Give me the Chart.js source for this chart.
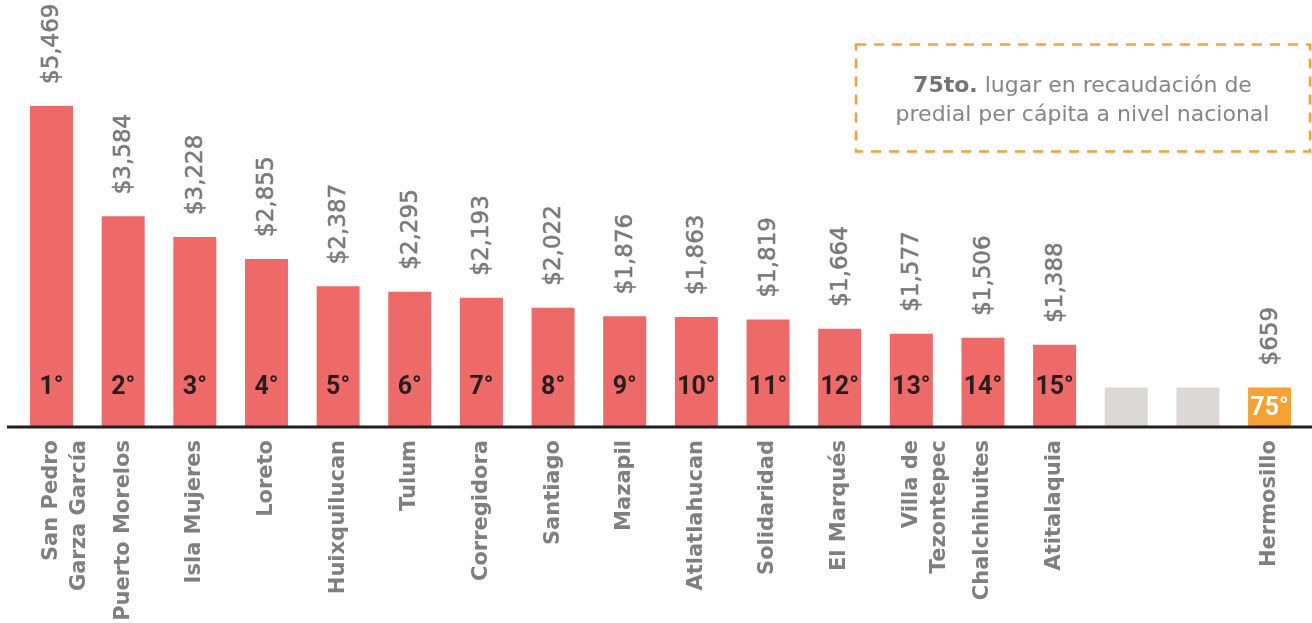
<!DOCTYPE html>
<html>
<head>
<meta charset="utf-8">
<script src="https://cdn.jsdelivr.net/npm/chart.js@4.4.1/dist/chart.umd.min.js"></script>
<style>
html,body{margin:0;padding:0;background:#fff;}
#wrap{position:relative;width:1312px;height:623px;overflow:hidden;}
#c{position:absolute;left:0;top:0;}
#box{position:absolute;left:0;top:0;}
#note{position:absolute;left:855px;top:45px;width:455px;height:108px;display:flex;align-items:center;justify-content:center;text-align:center;font-family:"DejaVu Sans",sans-serif;font-size:22px;line-height:29px;color:#868686;}
#note b{font-weight:700;color:#747474;}
</style>
</head>
<body>
<div id="wrap">
  <canvas id="c" width="1312" height="623"></canvas>
  <svg id="box" width="1312" height="623"><rect x="856" y="44.5" width="454" height="107" fill="none" stroke="#f7a133" stroke-width="2.5" stroke-dasharray="10 8"/></svg>
  <div id="note"><div><b>75to.</b> lugar en recaudación de<br>predial per cápita a nivel nacional</div></div>
</div>
<script>
const categories = [["San Pedro","Garza García"],"Puerto Morelos","Isla Mujeres","Loreto","Huixquilucan","Tulum","Corregidora","Santiago","Mazapil","Atlatlahucan","Solidaridad","El Marqués",["Villa de","Tezontepec"],"Chalchihuites","Atitalaquia","","","Hermosillo"];
const values = [5469,3584,3228,2855,2387,2295,2193,2022,1876,1863,1819,1664,1577,1506,1388,null,null,659];
const placeholderValues = [null,null,null,null,null,null,null,null,null,null,null,null,null,null,null,659,659,null];
const rankLabels = ["1°","2°","3°","4°","5°","6°","7°","8°","9°","10°","11°","12°","13°","14°","15°","","","75°"];
const highlightIndex = 17;

const RED = '#ed6a68', ORANGE = '#f7a133', GRAY = '#dad9d7';
const barColors = values.map((v,i)=> i===highlightIndex ? ORANGE : RED);

const labelPlugin = {
  id:'labelPlugin',
  afterDatasetsDraw(chart){
    const ctx = chart.ctx;
    const yBase = chart.scales.y.getPixelForValue(0);
    ctx.save();
    // axis line
    ctx.strokeStyle = '#231f20';
    ctx.lineWidth = 3;
    ctx.beginPath();
    ctx.moveTo(7, yBase+1);
    ctx.lineTo(chart.width, yBase+1);
    ctx.stroke();
    const meta = chart.getDatasetMeta(0);
    meta.data.forEach((bar,i)=>{
      const v = values[i];
      if (v === null || v === undefined) return;
      const top = bar.y;
      // rank label
      ctx.font = 'bold 25px Roboto';
      ctx.textAlign = 'center';
      ctx.textBaseline = 'middle';
      ctx.fillStyle = i===highlightIndex ? '#ffffff' : '#231f20';
      const ry = Math.max(yBase-38, (top+yBase)/2+2);
      ctx.fillText(rankLabels[i], bar.x, ry);
      // value label
      ctx.save();
      ctx.translate(bar.x, top-22);
      ctx.rotate(-Math.PI/2);
      ctx.font = '23px "DejaVu Sans"';
      ctx.fillStyle = '#7a7a7a';
      ctx.strokeStyle = '#7a7a7a';
      ctx.lineWidth = 0.6;
      ctx.textAlign = 'left';
      ctx.textBaseline = 'middle';
      const txt = '$' + v.toLocaleString('en-US');
      ctx.fillText(txt, 0, 1);
      ctx.strokeText(txt, 0, 1);
      ctx.restore();
    });
    ctx.restore();
  }
};

new Chart(document.getElementById('c'), {
  type:'bar',
  data:{
    labels: categories,
    datasets:[
      {data: values, backgroundColor: barColors, barPercentage:0.6, categoryPercentage:1},
      {data: placeholderValues, backgroundColor: GRAY, barPercentage:0.6, categoryPercentage:1}
    ]
  },
  options:{
    responsive:false,
    animation:false,
    layout:{padding:{left:15.7, right:6.6, top:0, bottom:0}},
    plugins:{legend:{display:false}, tooltip:{enabled:false}},
    scales:{
      x:{
        stacked:true,
        grid:{display:false},
        border:{display:false},
        ticks:{
          color:'#7f7f7f',
          font:{family:'"DejaVu Sans"', weight:'bold', size:21, lineHeight:1.35},
          minRotation:90, maxRotation:90,
          autoSkip:false,
          padding:6
        },
        afterFit(scale){ scale.height = 197; }
      },
      y:{
        stacked:true,
        display:false,
        min:0, max:7280
      }
    }
  },
  plugins:[labelPlugin]
});
</script>
</body>
</html>
